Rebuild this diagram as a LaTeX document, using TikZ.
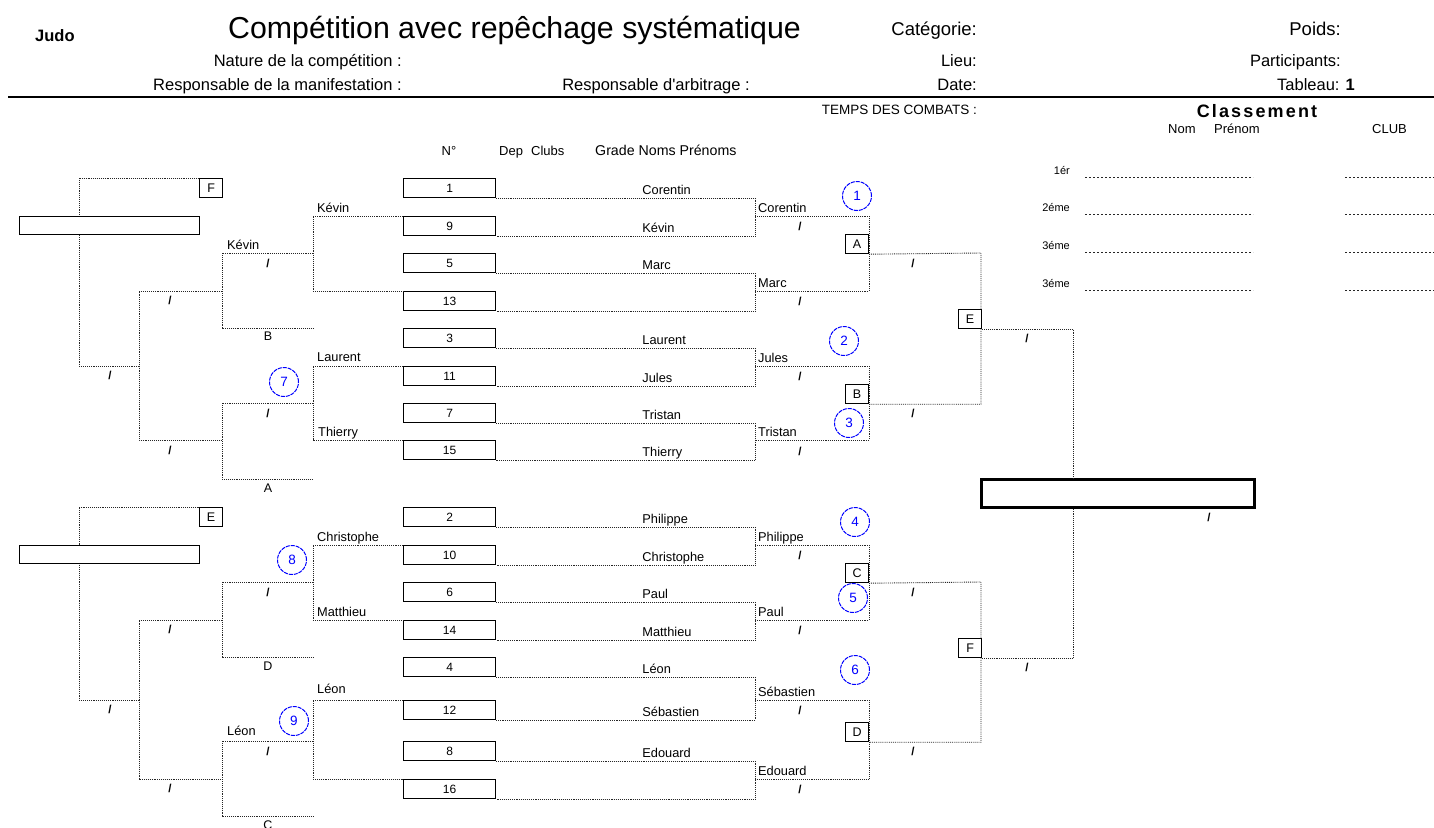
\documentclass[tikz,border=0pt]{standalone}
\usepackage{fontspec}
\setmainfont{Liberation Sans}
\newfontfamily\nomapfont{Liberation Sans}[Ligatures=TeXOff]
\newcommand\myfs[1]{\fontsize{#1}{#1}\selectfont}
\begin{document}
\begin{tikzpicture}[x=1pt,y=-1pt,
  dl/.style={densely dotted, line width=0.9pt, draw=black!85},
  rl/.style={dash pattern=on 2pt off 2pt, line width=0.9pt, draw=black!85},
  seedbox/.style={draw, line width=1.2pt, fill=white, minimum width=92pt, minimum height=19pt, inner sep=0pt, anchor=north west, font=\myfs{12}},
  poolbox/.style={draw, line width=1.2pt, fill=white, minimum width=23pt, minimum height=19pt, inner sep=0pt, anchor=north west, font=\myfs{12.5}},
  bigbox/.style={draw, line width=1.2pt, fill=white, minimum width=180pt, minimum height=18pt, inner sep=0pt, anchor=north west},
  nm/.style={anchor=base west, inner sep=0pt, font=\myfs{12.8}},
  hdr/.style={anchor=base east, inner sep=0pt, font=\myfs{16.5}},
  hdrb/.style={anchor=base east, inner sep=0pt, font=\myfs{18.5}},
  sm/.style={anchor=base west, inner sep=0pt, font=\myfs{13}},
  rk/.style={anchor=base east, inner sep=0pt, font=\myfs{11}},
  sl/.style={inner sep=0pt, font=\bfseries\myfs{11.5}},
  lt/.style={inner sep=0pt, font=\myfs{12.5}},
  circ/.style={circle, draw=blue, dash pattern=on 4pt off 1pt, line width=1pt, minimum size=29pt, inner sep=0pt, text=blue, font=\myfs{13.5}}]
\useasboundingbox (0,0) rectangle (1434,827);
\fill[white] (0,0) rectangle (1434,827);

% ---------- header ----------
\node[anchor=base west, inner sep=0pt, font=\bfseries\myfs{16.5}] (judo) at (35,41) {Judo};
\node[anchor=base west, inner sep=0pt, font=\myfs{30.3}] (title) at (228,38) {Compétition avec repêchage systématique};
\node[hdrb] (cat) at (977,35) {Catégorie:};
\node[hdrb] (poids) at (1341,35) {Poids:};
\node[hdr] (nat) at (402,66) {Nature de la compétition :};
\node[hdr] (lieu) at (977,66) {Lieu:};
\node[hdr] (part) at (1341,66) {Participants:};
\node[hdr] (resp) at (402,90) {Responsable de la manifestation :};
\node[hdr] (arb) at (750,90) {\nomapfont Responsable d'arbitrage :};
\node[hdr] (date) at (977,90) {Date:};
\node[hdr] (tab) at (1355,90) {Tableau: \textbf{1}};
\coordinate (ruleL) at (8,97);
\coordinate (ruleR) at (1434,97);
\draw[line width=2.5pt] (ruleL) -- (ruleR);
\node[anchor=base east, inner sep=0pt, font=\myfs{13.5}] (temps) at (977,114) {TEMPS DES COMBATS :};
\node[anchor=base, inner sep=0pt, font=\bfseries\myfs{18}\addfontfeature{LetterSpace=12}] (classt) at (1257,117) {Classement};
\node[sm] (nom) at (1168,133) {Nom};
\node[sm] (prenom) at (1214,133) {Prénom};
\node[sm] (club) at (1372,133) {CLUB};
\node[anchor=base, inner sep=0pt, font=\myfs{13}] (num) at (449,155) {N°};
\node[sm] (dep) at (499,155) {Dep};
\node[sm] (clubs) at (531,155) {Clubs};
\node[anchor=base west, inner sep=0pt, font=\myfs{14.2}] (grade) at (595,155) {Grade Noms Prénoms};

% ---------- ranking ----------
\foreach \i/\r/\y in {1/1ér/174, 2/2éme/211, 3/3éme/249, 4/3éme/287}{
  \node[rk] (rank\i) at (1070,\y) {\r};
  \coordinate (rkA\i) at (1085,\y+3);
  \coordinate (rkB\i) at (1253,\y+3);
  \coordinate (rkC\i) at (1345,\y+3);
  \coordinate (rkD\i) at (1434,\y+3);
  \draw[rl] (rkA\i) -- (rkB\i);
  \draw[rl] (rkC\i) -- (rkD\i);
}

% ---------- seed boxes ----------
\foreach \n/\t in {1/178, 9/216, 5/253, 13/291, 3/328, 11/366, 7/403, 15/440,
                   2/507, 10/545, 6/582, 14/620, 4/657, 12/700, 8/741, 16/779}
  \node[seedbox] (b\n) at (403,\t) {\n};

% round 1 lines (right of boxes)
\foreach \a/\b in {1/9, 5/13, 3/11, 7/15, 2/10, 6/14, 4/12, 8/16}
  \draw[dl] (b\a.south east) -- ++(259,0) |- (b\b.south east);

% names on round 1 lines
\foreach \n/\s in {1/Corentin, 9/Kévin, 5/Marc, 3/Laurent, 11/Jules, 7/Tristan, 15/Thierry,
                   2/Philippe, 10/Christophe, 6/Paul, 14/Matthieu, 4/Léon, 12/Sébastien, 8/Edouard}
  \node[nm] (n\n) at ([xshift=146pt,yshift=4pt]b\n.south east) {\s};

% ---------- round 2 (right) ----------
\foreach \k/\a/\b in {1/9/13, 2/11/15, 3/10/14, 4/12/16}{
  \coordinate (ra\k) at ([xshift=259pt]b\a.south east |- b\a.north);
  \coordinate (rb\k) at ([xshift=259pt]b\b.south east |- b\b.north);
  \draw[dl] (ra\k) -- ++(114,0) |- (rb\k);
}
\node[nm] (w1) at (758,212) {Corentin};
\node[nm] (w2) at (758,287) {Marc};
\node[nm] (w3) at (758,362) {Jules};
\node[nm] (w4) at (758,436) {Tristan};
\node[nm] (w5) at (758,541) {Philippe};
\node[nm] (w6) at (758,616) {Paul};
\node[nm] (w7) at (758,696) {Sébastien};
\node[nm] (w8) at (758,775) {Edouard};

% pool boxes
\node[poolbox] (pA) at (845,234) {A};
\node[poolbox] (pB) at (845,384) {B};
\node[poolbox] (pC) at (845,563) {C};
\node[poolbox] (pD) at (845,722) {D};

% round 3
\coordinate (jAB) at (981,253);
\coordinate (jCD) at (981,582);
\draw[dl] (pA.south east) -- (jAB) |- (pB.south east);
\draw[dl] (pC.south east) -- (jCD) |- (pD.south east);
\node[poolbox] (pE) at (958,309) {E};
\node[poolbox] (pF) at (958,638) {F};

% final
\node[draw, line width=2.5pt, fill=white, minimum width=273pt, minimum height=28pt, inner sep=0pt, anchor=north west] (fin) at (980,478) {};
\coordinate (fx) at (1073,0);
\draw[dl] (pE.south east) -| (fin.north -| fx);
\draw[dl] (pF.south east) -| (fin.south -| fx);

% circles
\node[circ] (c1) at (857,196) {1};
\node[circ] (c2) at (844,341) {2};
\node[circ] (c3) at (849,423) {3};
\node[circ] (c4) at (855,522) {4};
\node[circ] (c5) at (853,598) {5};
\node[circ] (c6) at (855,670) {6};

% ---------- repechage upper ----------
\coordinate (u1) at (313,0);
\coordinate (u2) at (222,0);
\coordinate (u3) at (139,0);
\coordinate (u4) at (79,0);
\draw[dl] (b9.north west) -- (b9.north west -| u1) |- (b13.north west);
\draw[dl] (b11.north west) -- (b11.north west -| u1) |- (b15.north west);
\coordinate (k1) at (313,253);
\coordinate (k1b) at (313,328);
\coordinate (k2) at (313,403);
\coordinate (k2b) at (313,479);
\draw[dl] (k1) -- (k1 -| u2) |- (k1b);
\draw[dl] (k2) -- (k2 -| u2) |- (k2b);
\coordinate (m1) at (222,291);
\coordinate (m2) at (222,440);
\draw[dl] (m1) -- (m1 -| u3) |- (m2);
\coordinate (q1) at (139,366);
\node[poolbox] (lF) at (199,178) {F};
\draw[dl] (q1) -- (q1 -| u4) |- (lF.north west);
\node[bigbox] (L1) at (19,216) {};

\node[nm] (lk1) at (317,212) {Kévin};
\node[nm] (lk2) at (227,249) {Kévin};
\node[nm] (ll1) at (317,361) {Laurent};
\node[nm] (lt1) at (318,436) {Thierry};
\node[lt] (lB) at (268,336) {B};
\node[lt] (lA) at (268,488) {A};
\node[circ] (c7) at (284,382) {7};

% ---------- repechage lower ----------
\draw[dl] (b10.north west) -- (b10.north west -| u1) |- (b14.north west);
\draw[dl] (b12.north west) -- (b12.north west -| u1) |- (b16.north west);
\coordinate (k3) at (313,582);
\coordinate (k3b) at (313,657);
\coordinate (k4) at (313,741);
\coordinate (k4b) at (313,816);
\draw[dl] (k3) -- (k3 -| u2) |- (k3b);
\draw[dl] (k4) -- (k4 -| u2) |- (k4b);
\coordinate (m3) at (222,620);
\coordinate (m4) at (222,779);
\draw[dl] (m3) -- (m3 -| u3) |- (m4);
\coordinate (q2) at (139,700);
\node[poolbox] (lE) at (199,507) {E};
\draw[dl] (q2) -- (q2 -| u4) |- (lE.north west);
\node[bigbox] (L2) at (19,545) {};

\node[nm] (lc1) at (317,541) {Christophe};
\node[nm] (lm1) at (317,616) {Matthieu};
\node[nm] (lle1) at (317,693) {Léon};
\node[nm] (lle2) at (227,735) {Léon};
\node[lt] (lD) at (268,666) {D};
\node[lt] (lC) at (268,825) {C};
\node[circ] (c8) at (292,560) {8};
\node[circ] (c9) at (294,721) {9};

% ---------- slash marks ----------
\foreach \i/\x/\y in {1/800/226, 2/800/301, 3/800/376, 4/800/451, 5/800/555, 6/800/630, 7/800/710, 8/800/789,
  9/913/263, 10/913/413, 11/1027/338, 12/913/592, 13/913/751, 14/1027/667, 15/1209/517,
  16/268/263, 17/170/300, 18/110/375, 19/268/413, 20/170/450,
  21/268/592, 22/170/629, 23/110/709, 24/268/751, 25/170/788}
  \node[sl] (sl\i) at (\x,\y) {/};
\end{tikzpicture}
\end{document}
